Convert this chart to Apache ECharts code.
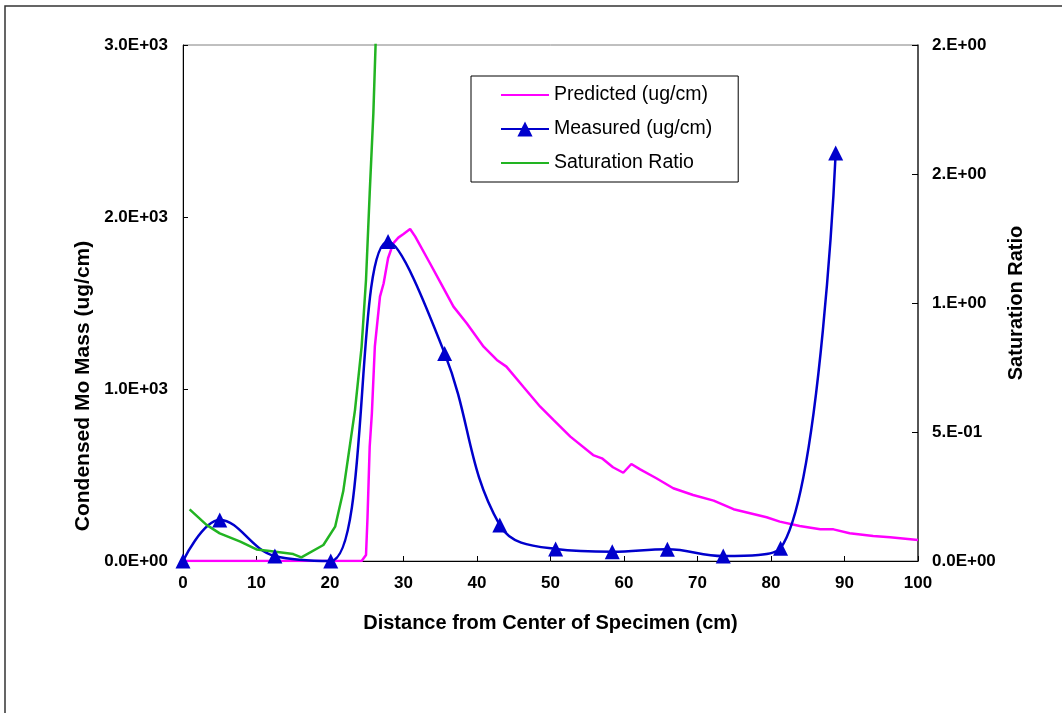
<!DOCTYPE html>
<html>
<head>
<meta charset="utf-8">
<script src="https://cdn.jsdelivr.net/npm/echarts@6/dist/echarts.min.js"></script>
<style>
html,body{margin:0;padding:0;background:#fff;}
#chart{width:1062px;height:713px;}
</style>
</head>
<body>
<div id="chart"></div>
<script>
// ---- data ----
const xTickLabels = ['0','10','20','30','40','50','60','70','80','90','100'];
const leftTickLabels = ['0.0E+00','1.0E+03','2.0E+03','3.0E+03'];
const rightTickLabels = ['0.0E+00','5.E-01','1.E+00','2.E+00','2.E+00'];

const predicted = [
  [0,0],[5,0],[10,0],[15,0],[20,0],[24.3,0],[24.9,35],[25.1,250],[25.4,665],[25.7,860],
  [26.1,1246],[26.8,1537],[27.3,1615],[27.9,1760],[28.6,1847],[29.3,1880],[30,1901],
  [30.9,1930],[31.1,1934],[31.6,1886],[33.6,1731],[35.2,1605],[36.8,1479],[38.6,1382],
  [40.9,1246],[42.7,1169],[44,1130],[46.3,1013],[48.6,897],[50.4,820],[52.7,723],
  [55.8,616],[57,597],[58.5,545],[59.9,513],[61,564],[62.2,533],[64.4,481],[66.7,423],
  [69.4,384],[72.2,351],[74.9,301],[79.4,254],[81.2,229],[83.9,203],[86.7,184],
  [88.5,184],[90.7,161],[93.9,145],[96.2,138],[100,122]
];
const measured = [
  [0,0],[5,238],[12.5,29],[20.1,0],[27.9,1857],[35.6,1207],[43.1,209],
  [50.7,70],[58.4,54],[65.9,68],[73.5,29],[81.3,74],[88.8,2372]
];
const saturation = [
  [0.9,0.20],[3.2,0.14],[5,0.107],[7.8,0.075],[10,0.045],[11.8,0.039],[15,0.027],
  [16.1,0.014],[19.1,0.062],[20.7,0.133],[21.8,0.27],[23.4,0.585],[24.3,0.83],
  [24.9,1.09],[25.4,1.425],[25.9,1.736],[26.2,2.0],[26.6,2.4]
];

const FONT = "'Liberation Sans', Arial, sans-serif";
const chart = echarts.init(document.getElementById('chart'));
chart.setOption({
  backgroundColor: '#fff',
  animation: false,
  graphic: [{
    type: 'rect',
    shape: {x: 5, y: 6, width: 1075, height: 730},
    style: {fill: 'none', stroke: '#333', lineWidth: 1.5}
  }],
  grid: {left: 183, right: 144, top: 45, bottom: 152, show: true,
         borderColor: '#808080', borderWidth: 1, backgroundColor: 'transparent'},
  legend: {
    orient: 'vertical', left: 471, top: 76,
    padding: [9, 26, 9, 29],
    borderColor: '#000', borderWidth: 1, backgroundColor: '#fff',
    itemWidth: 48, itemHeight: 19, itemGap: 14,
    textStyle: {fontFamily: FONT, fontSize: 19.5, color: '#000', lineHeight: 20},
    data: [
      {name: 'Predicted (ug/cm)', itemStyle: {opacity: 0}},
      {name: 'Measured (ug/cm)'},
      {name: 'Saturation Ratio', itemStyle: {opacity: 0}}
    ]
  },
  xAxis: {
    type: 'value', min: 0, max: 100, interval: 10,
    name: 'Distance from Center of Specimen (cm)', nameLocation: 'middle', nameGap: 52,
    nameTextStyle: {fontFamily: FONT, fontSize: 20, fontWeight: 'bold', color: '#000'},
    axisLine: {lineStyle: {color: '#000', width: 1}},
    axisTick: {inside: true, length: 5, lineStyle: {color: '#000'}},
    splitLine: {show: false},
    axisLabel: {fontFamily: FONT, fontSize: 17, fontWeight: 'bold', color: '#000', margin: 14,
      formatter: v => xTickLabels[Math.round(v / 10)]}
  },
  yAxis: [{
    type: 'value', min: 0, max: 3000, interval: 1000, position: 'left',
    name: 'Condensed Mo Mass (ug/cm)', nameLocation: 'middle', nameGap: 88, nameRotate: 90,
    nameTextStyle: {fontFamily: FONT, fontSize: 21, fontWeight: 'bold', color: '#000',
      padding: [0, 166, 0, 0]},
    axisLine: {show: true, lineStyle: {color: '#000', width: 1}},
    axisTick: {show: true, inside: true, length: 5, lineStyle: {color: '#000'}},
    splitLine: {show: false},
    axisLabel: {fontFamily: FONT, fontSize: 17, fontWeight: 'bold', color: '#000', margin: 15,
      formatter: v => leftTickLabels[Math.round(v / 1000)]}
  }, {
    type: 'value', min: 0, max: 2, interval: 0.5, position: 'right',
    name: 'Saturation Ratio', nameLocation: 'middle', nameGap: 72, nameRotate: 90,
    nameTextStyle: {fontFamily: FONT, fontSize: 20, fontWeight: 'bold', color: '#000'},
    axisLine: {show: true, lineStyle: {color: '#333', width: 1.5}},
    axisTick: {show: true, inside: true, length: 6, lineStyle: {color: '#000'}},
    splitLine: {show: false},
    axisLabel: {fontFamily: FONT, fontSize: 17, fontWeight: 'bold', color: '#000', margin: 14,
      formatter: v => rightTickLabels[Math.round(v / 0.5)]}
  }],
  series: [{
    name: 'Predicted (ug/cm)', type: 'line', yAxisIndex: 0, data: predicted,
    symbol: 'none', lineStyle: {color: '#ff00ff', width: 2.5}, itemStyle: {color: '#ff00ff'}
  }, {
    name: 'Measured (ug/cm)', type: 'line', yAxisIndex: 0, data: measured, smooth: 0.4,
    symbol: 'triangle', symbolSize: 15, showAllSymbol: true, clip: false,
    lineStyle: {color: '#0000cc', width: 2.5}, itemStyle: {color: '#0000cc'}, z: 3
  }, {
    name: 'Saturation Ratio', type: 'line', yAxisIndex: 1, data: saturation,
    symbol: 'none', lineStyle: {color: '#22b422', width: 2.5}, itemStyle: {color: '#22b422'}
  }]
});
</script>
</body>
</html>
